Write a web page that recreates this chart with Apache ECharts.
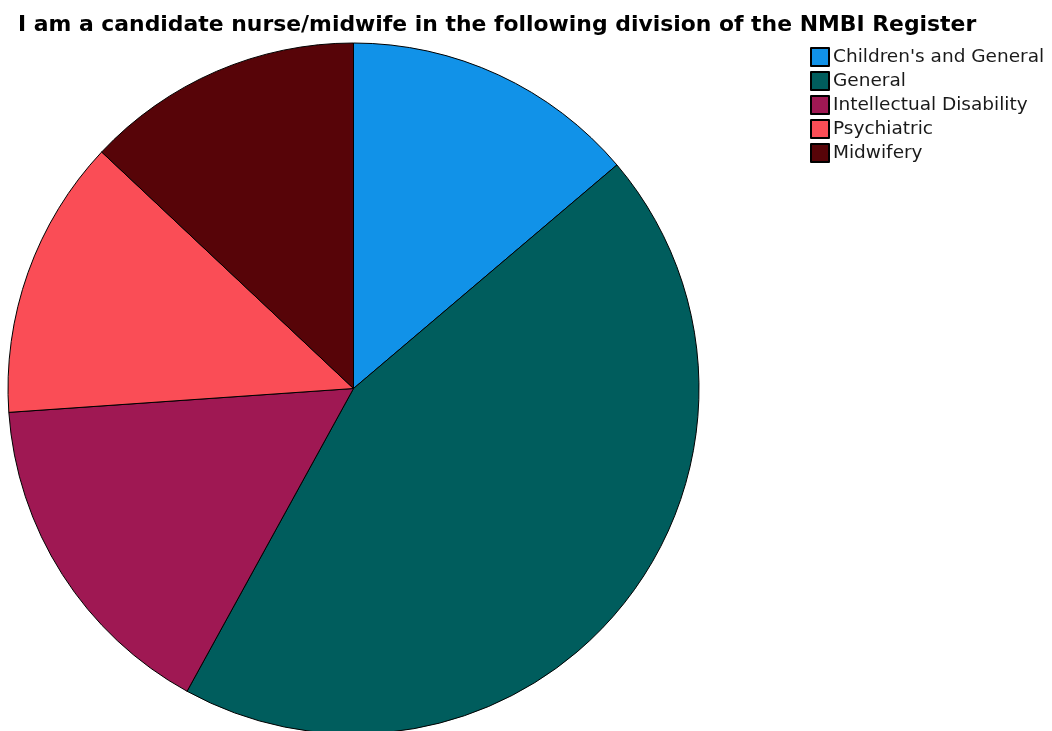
<!DOCTYPE html>
<html>
<head>
<meta charset="utf-8">
<script src="https://cdn.jsdelivr.net/npm/echarts@6/dist/echarts.min.js"></script>
<style>html,body{margin:0;padding:0;background:#fff;}#c{width:1052px;height:731px;}</style>
</head>
<body>
<div id="c"></div>
<script>
const titleText = "I am a candidate nurse/midwife in the following division of the NMBI Register";
const categories = ["Children's and General", "General", "Intellectual Disability", "Psychiatric", "Midwifery"];
const values = [13.8, 44.2, 15.9, 13.1, 13.0];
const colors = ["#1192e8", "#005d5d", "#9f1853", "#fa4d56", "#570408"];

const chart = echarts.init(document.getElementById('c'), null, {renderer: 'canvas'});
chart.setOption({
  animation: false,
  backgroundColor: '#ffffff',
  title: {
    text: titleText,
    left: 13, top: 9,
    textStyle: {fontFamily: 'DejaVu Sans', fontWeight: 'bold', fontSize: 21.9, color: '#000'}
  },
  legend: {
    orient: 'vertical',
    left: 805, top: 42,
    itemWidth: 18, itemHeight: 18, itemGap: 4,
    icon: 'rect',
    textStyle: {fontFamily: 'DejaVu Sans', fontSize: 18.5, color: '#1a1a1a', padding: [0,0,0,-1]},
    data: categories
  },
  series: [{
    type: 'pie',
    center: [353.5, 388.5],
    radius: 345.5,
    startAngle: 90,
    clockwise: true,
    label: {show: false},
    labelLine: {show: false},
    itemStyle: {borderColor: '#000', borderWidth: 1},
    emphasis: {disabled: true},
    data: categories.map((n, i) => ({name: n, value: values[i], itemStyle: {color: colors[i]}}))
  }]
});
</script>
</body>
</html>
